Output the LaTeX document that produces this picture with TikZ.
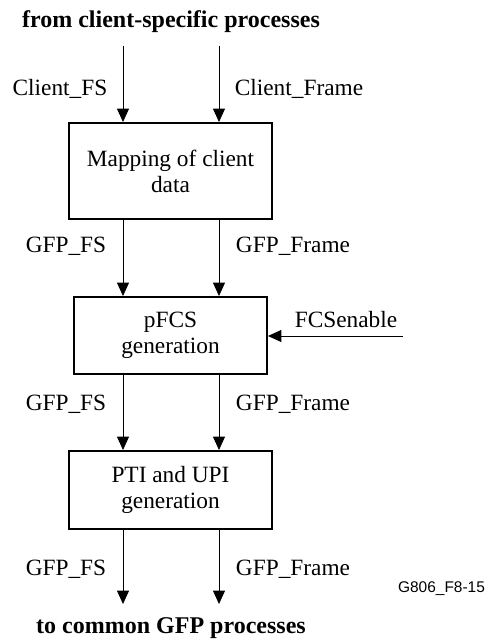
\documentclass[tikz,border=0pt]{standalone}
\usepackage{fontspec}
\setmainfont{Liberation Serif}
\newfontfamily\figsans{Liberation Sans}
\usetikzlibrary{arrows.meta}
\begin{document}
\begin{tikzpicture}[x=0.75pt,y=-0.75pt,
  every node/.style={font=\fontsize{17.5}{19.5}\selectfont, inner sep=0pt},
  blk/.style={draw, line width=1.5pt, align=center},
  flow/.style={line width=0.6pt, -{Triangle[width=9pt,length=10pt]}},
  lbl/.style={anchor=base},
  ttl/.style={anchor=base, font=\fontsize{18}{20}\selectfont\bfseries}]
\useasboundingbox (0,0) rectangle (487,642);
% titles
\node[ttl] (top) at (171,28) {from client-specific processes};
\node[ttl] (bot) at (171,633) {to common GFP processes};
% boxes
\node[blk, minimum width=203*0.75pt, minimum height=96*0.75pt] (b1) at (170.5,171) {Mapping of client\\data};
\node[blk, minimum width=193*0.75pt, minimum height=77*0.75pt] (b2) at (170.5,335.5) {pFCS\\generation};
\node[blk, minimum width=203*0.75pt, minimum height=78*0.75pt] (b3) at (170.5,490) {PTI and UPI\\generation};
% start / end points
\coordinate (s1) at (123,46);
\coordinate (s2) at (219,46);
\coordinate (e1) at (123,604);
\coordinate (e2) at (219,604);
\coordinate (fe) at (403,336);
% connectors
\draw[flow] (s1) -- (s1 |- b1.north);
\draw[flow] (s2) -- (s2 |- b1.north);
\draw[flow] (s1 |- b1.south) -- (s1 |- b2.north);
\draw[flow] (s2 |- b1.south) -- (s2 |- b2.north);
\draw[flow] (s1 |- b2.south) -- (s1 |- b3.north);
\draw[flow] (s2 |- b2.south) -- (s2 |- b3.north);
\draw[flow] (s1 |- b3.south) -- (e1);
\draw[flow] (s2 |- b3.south) -- (e2);
\draw[flow] (fe) -- (fe -| b2.east);
% labels
\node[lbl] (l1) at (60,95) {Client\_FS};
\node[lbl] (l2) at (299,95) {Client\_Frame};
\node[lbl] (l3) at (66,252) {GFP\_FS};
\node[lbl] (l4) at (293,252) {GFP\_Frame};
\node[lbl] (l5) at (66,410) {GFP\_FS};
\node[lbl] (l6) at (293,410) {GFP\_Frame};
\node[lbl] (l7) at (66,575) {GFP\_FS};
\node[lbl] (l8) at (293,575) {GFP\_Frame};
\node[lbl] (l9) at (346,327) {FCSenable};
\node[anchor=base, font=\figsans\fontsize{11.6}{13}\selectfont] (id) at (441.5,592) {G806\_F8-15};
\end{tikzpicture}
\end{document}
